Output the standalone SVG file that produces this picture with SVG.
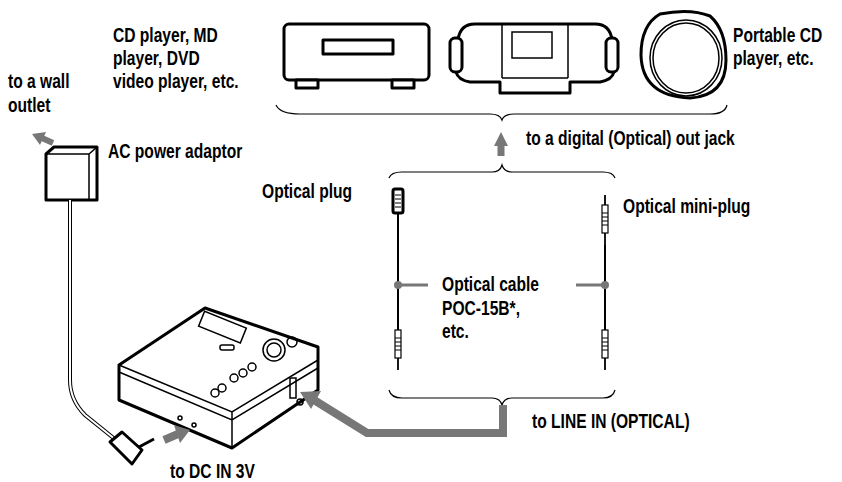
<svg xmlns="http://www.w3.org/2000/svg" width="842" height="482" viewBox="0 0 842 482">
<style>
.t{font-family:"Liberation Sans",Arial,sans-serif;font-weight:bold;font-size:20px;fill:#000}
.o{fill:#fff;stroke:#000;stroke-width:3;stroke-linejoin:round}
.th{fill:none;stroke:#000;stroke-width:1.5}
.br{fill:none;stroke:#000;stroke-width:1.2}
.g{fill:none;stroke:#777;stroke-width:8}
</style>
<defs>
<g id="jack"><rect x="-3" y="0" width="6" height="28" fill="#fff" stroke="#000" stroke-width="1.2"/><path d="M0,0 v-10 M0,28 v12" stroke="#000" stroke-width="1.8"/><path d="M-3,8h6M-3,12h6M-3,16h6M-3,20h6" stroke="#000" stroke-width="1"/></g>
</defs>
<g id="cd-player"><rect x="284" y="24" width="145" height="56" rx="5" class="o"/><rect x="323" y="40" width="70" height="14" class="o" stroke-width="1.8"/><rect x="296" y="80" width="22" height="8" class="o" stroke-width="1.8"/><rect x="392" y="80" width="22" height="8" class="o" stroke-width="1.8"/></g>
<g id="boombox"><path d="M475,24 H595 Q610,24 612,40 Q618,55 614,72 Q612,80 600,82 L570,82 V93 H500 V82 L470,82 Q458,80 456,72 Q452,55 458,40 Q460,24 475,24Z" class="o"/><path d="M502,24 V78 M568,24 V78 M502,78 H568" class="th"/><rect x="512" y="32" width="40" height="26" class="th" stroke-width="2"/><rect x="450" y="38" width="12" height="34" rx="5" class="o" stroke-width="2"/><rect x="606" y="38" width="12" height="34" rx="5" class="o" stroke-width="2"/></g>
<g id="portable-cd"><path d="M660,14 Q690,8 710,16 Q726,30 726,60 Q726,96 690,98 Q642,96 641,55 Q641,25 660,14Z" class="o"/><ellipse cx="686" cy="58" rx="36" ry="38" class="th"/><ellipse cx="686" cy="58" rx="33" ry="35" class="th" stroke-width="0.8"/></g>
<g id="adaptor"><path d="M46,154 L54,147 H97 V200 H46Z" class="o" stroke-width="1.8"/><path d="M46,154 H89 L97,147 M89,154 V200" class="th"/><path d="M70,200 V380 Q70,400 85,415 L116,440" fill="none" stroke="#000" stroke-width="4"/><path d="M70,200 V380 Q70,400 85,415 L116,440" fill="none" stroke="#fff" stroke-width="2"/><path d="M110,442 L122,432 L142,450 L132,464 Z" class="o" stroke-width="1.5"/><path d="M139,447 L154,439" stroke="#000" stroke-width="3"/></g>
<g id="md-player"><path d="M205,308 L318,347 V390 L232,448 L119,400 V365 Z" class="o"/><path d="M119,365 L232,412 L318,360 M232,412 V448 M119,372 L232,420 L318,368" class="th"/><rect x="200" y="319" width="45" height="16" class="th" transform="rotate(22 222 327)"/><circle cx="274" cy="350" r="11" class="th"/><circle cx="274" cy="350" r="7" class="th"/><circle cx="252" cy="367" r="4" class="th"/><circle cx="243" cy="373" r="4" class="th"/><circle cx="234" cy="378" r="4" class="th"/><circle cx="222" cy="388" r="4" class="th"/><circle cx="215" cy="393" r="4" class="th"/><rect x="220" y="345" width="14" height="5" rx="2" class="th"/><circle cx="292" cy="342" r="5" class="th"/><rect x="290" y="378" width="6" height="20" class="th"/><circle cx="300" cy="402" r="3" class="th"/><circle cx="194" cy="425" r="2" class="th"/><circle cx="180" cy="418" r="2" class="th"/></g>
<g id="cables">
<rect x="393" y="189" width="10" height="24" rx="2" class="o" stroke-width="1.5"/><path d="M395,195h6M395,199h6M395,203h6M395,207h6" stroke="#000"/>
<path d="M398,213 V330" stroke="#000" stroke-width="2"/><use href="#jack" x="398" y="330"/>
<use href="#jack" x="605" y="205"/><path d="M605,245 V330" stroke="#000" stroke-width="2"/><use href="#jack" x="605" y="330"/>
<path d="M398,285 H428 M576,285 H605" stroke="#777" stroke-width="3"/><circle cx="398" cy="285" r="4" fill="#777"/><circle cx="605" cy="285" r="4" fill="#777"/>
</g>
<g id="connectors">
<path d="M276,105 Q280,114 300,114 H490 Q500,114 502,120 Q504,114 514,114 H710 Q725,114 727,105" class="br"/>
<path d="M389,178 Q391,172 402,172 H492 Q500,172 502,165 Q504,172 512,172 H603 Q613,172 615,178" class="br"/>
<path d="M389,390 Q391,398 402,398 H492 Q500,398 502,405 Q504,398 512,398 H603 Q613,398 615,390" class="br"/>
<path d="M501,156 V144" stroke="#777" stroke-width="7"/><path d="M494,146 L501,132 L508,146Z" fill="#777"/>
<path d="M503,405 V433 H367 L314,400" class="g" stroke-linejoin="miter"/><path d="M300,392 L321,391 L311,409Z" fill="#777"/>
<path d="M164,440 L178,434" stroke="#777" stroke-width="8"/><path d="M190,430 L174,425 L180,443Z" fill="#777"/>
<path d="M53,143 L42,138" stroke="#777" stroke-width="6"/><path d="M32,134 L46,132 L40,145Z" fill="#777"/>
</g>
<g id="labels" class="t">
<text transform="translate(113,42) scale(0.78,1)">CD player, MD</text>
<text transform="translate(113,65) scale(0.78,1)">player, DVD</text>
<text transform="translate(113,88) scale(0.78,1)">video player, etc.</text>
<text transform="translate(733,42) scale(0.78,1)">Portable CD</text>
<text transform="translate(733,65) scale(0.78,1)">player, etc.</text>
<text transform="translate(8,88) scale(0.78,1)">to a wall</text>
<text transform="translate(8,112) scale(0.78,1)">outlet</text>
<text transform="translate(108,158) scale(0.78,1)">AC power adaptor</text>
<text transform="translate(526,145) scale(0.78,1)">to a digital (Optical) out jack</text>
<text transform="translate(262,198) scale(0.78,1)">Optical plug</text>
<text transform="translate(623,213) scale(0.78,1)">Optical mini-plug</text>
<text transform="translate(442,291) scale(0.78,1)">Optical cable</text>
<text transform="translate(442,315) scale(0.78,1)">POC-15B*,</text>
<text transform="translate(442,338) scale(0.78,1)">etc.</text>
<text transform="translate(532,428) scale(0.78,1)">to LINE IN (OPTICAL)</text>
<text transform="translate(170,478) scale(0.78,1)">to DC IN 3V</text>
</g>
</svg>
